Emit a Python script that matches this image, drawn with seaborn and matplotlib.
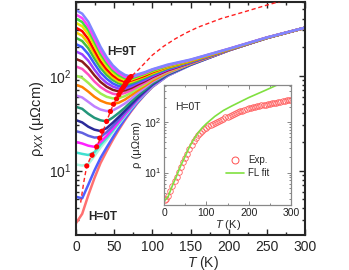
import matplotlib
matplotlib.use('Agg')
import pandas as pd
import matplotlib.pyplot as plt
import seaborn as sns
from matplotlib.ticker import MultipleLocator, LogLocator, NullFormatter
from matplotlib.lines import Line2D

# temperature grid shared by all field curves (K)
T_grid = [0, 8, 16, 24, 32, 40, 48, 56, 64, 72, 80, 90, 100, 120, 150, 200, 250, 300]

# rho_xx (uOhm cm) for each field curve, lowest field (H=0T) first, highest (H=9T) last
rho_c00 = [2.8, 3.5, 5.5, 8.3, 12, 16, 21, 27, 34, 42, 51, 63, 76, 100, 130, 185, 250, 320]
rho_c01 = [5.3, 5.1, 7.1, 10, 13.6, 17.5, 22.3, 28.1, 35, 42.9, 51.8, 63.5, 76.6, 100, 130, 185, 250, 320]
rho_c02 = [11.6, 11.3, 11.7, 14.2, 17.5, 20.9, 25.3, 30.8, 37.3, 44.9, 53.5, 64.9, 77.6, 101, 130, 185, 250, 320]
rho_c03 = [15.5, 15, 14.6, 15.6, 18.8, 22.1, 26.4, 31.8, 38.3, 45.7, 54.3, 65.5, 78, 101, 130, 185, 250, 320]
rho_c04 = [20, 19.3, 18.3, 17.8, 20, 23.2, 27.5, 32.8, 39.2, 46.5, 55, 66.2, 78.7, 101.5, 130.5, 185, 250, 320]
rho_c05 = [26, 25, 23.3, 22.3, 22.5, 25.4, 29.4, 34.6, 40.8, 48, 56.4, 67.3, 79.6, 102, 131, 185, 250, 320]
rho_c06 = [34, 32.2, 29, 27, 26.1, 28, 31.9, 36.8, 42.8, 49.9, 58, 68.7, 81, 103, 131, 186, 250, 320]
rho_c07 = [47, 44.8, 39.7, 36, 33.9, 33, 36.2, 40.6, 46, 53, 61, 71, 83, 104, 132, 186, 250, 320]
rho_c08 = [62, 59, 53, 47.5, 44, 42.4, 43, 46.5, 51, 57, 65, 74.5, 86, 106, 133, 186, 250, 320]
rho_c09 = [80, 76, 68, 60, 54.6, 51.5, 50.1, 52, 56, 62, 69, 78, 88.5, 108, 134, 186, 250, 320]
rho_c10 = [100, 95, 84, 73, 65, 60, 57.7, 58, 61, 66, 73, 81, 92, 110, 135, 187, 250, 320]
rho_c11 = [125, 118, 103, 87, 76, 69, 64.7, 63, 65.8, 70, 76, 84, 94, 112, 136, 187, 250, 320]
rho_c12 = [150, 141, 122, 101, 86, 76.6, 71, 68.4, 70, 74, 80, 87.5, 97, 114, 137, 187, 250, 320]
rho_c13 = [180, 168, 144, 116, 96, 84, 77, 73, 73, 77, 83, 90, 99, 116, 138, 188, 250, 320]
rho_c14 = [215, 200, 169, 134, 108, 93, 83, 77.6, 76.7, 80, 85.5, 93, 102, 118, 139, 188, 251, 320]
rho_c15 = [250, 232, 195, 152, 121, 102, 90, 83, 80, 83.4, 88, 95.5, 104, 120, 141, 189, 251, 320]
rho_c16 = [285, 264, 219, 169, 132, 110, 95.5, 87, 83.4, 86, 91, 98, 106, 122, 142, 189, 251, 320]
rho_c17 = [320, 295, 244, 185, 142, 117, 101, 91, 86.5, 89, 93.5, 100, 109, 124, 143, 190, 252, 320]
rho_c18 = [360, 332, 274, 207, 157, 127, 108, 96, 90, 91, 96, 103, 111, 125, 144, 190, 252, 320]
rho_c19 = [400, 368, 302, 227, 170, 136, 114, 101, 94, 93.5, 98, 105, 113, 127, 146, 191, 252, 321]
rho_c20 = [440, 405, 330, 247, 183, 145, 120, 106, 97.5, 96, 101, 107, 116, 129, 147, 192, 253, 321]
rho_c21 = [490, 451, 370, 274, 202, 157, 129, 112, 102, 98, 103, 109, 117, 131, 148, 192, 253, 321]

curve_colors = ['#ff7070', '#4f5fff', '#a8f5e0', '#40e0d0', '#ff20ff', '#6060e0',
                '#2b2b9a', '#23967a', '#c080ff', '#ff8000', '#a0ee50', '#ff50c0',
                '#8b1a1a', '#9b40ff', '#3d5cff', '#40c040', '#f0d000', '#ff0000',
                '#e8e800', '#40e040', '#ff40ff', '#7f86ff']

# resistivity minima (red dots) and the dashed guide line through them
min_T = [14, 21, 27, 31, 34, 40, 45, 49, 53, 56, 58, 60, 62, 64, 65, 66, 68, 69, 70, 72]
min_rho = [11.2, 14.5, 17.8, 22, 26, 33, 42, 50, 57, 63, 68, 72, 76, 80, 83, 86, 89, 92, 95, 98]
guide_T = [6, 10, 14, 20, 27, 33, 40, 45, 49, 53, 58, 62, 66, 72, 80, 100, 115, 130, 145, 160, 190, 220, 250, 275]
guide_rho = [4.6, 7.5, 11.2, 14.3, 17.8, 23, 33, 42, 50, 57, 68, 76, 86, 98, 112, 165, 205, 245, 285, 325, 400, 470, 555, 630]

# inset: H=0T data and Fermi-liquid fit
exp_T = [2] + list(range(5, 301, 5))
exp_rho = [2.9, 3.0, 3.5, 4.3, 5.4, 6.7, 8.2, 10.2, 12.8, 16, 19.5, 23.5, 28.5, 35, 42,
           49, 55, 61, 66, 71, 76, 81, 86, 91, 96, 101, 106, 111, 116, 122, 127, 132,
           138, 143, 149, 155, 161, 167, 173, 178, 183, 188, 192, 197, 201, 206, 210,
           215, 219, 223, 228, 232, 236, 240, 245, 249, 254, 259, 264, 270, 275]
fl_T = [0, 10, 20, 30, 40, 50, 60, 70, 80, 90, 100, 120, 140, 160, 180, 200, 220, 240, 260, 270]
fl_rho = [2.7, 3.4, 5.6, 8.7, 14, 21, 32, 45, 60, 76, 92, 128, 167, 205, 248, 300, 355, 420, 500, 545]

all_curves = [rho_c00, rho_c01, rho_c02, rho_c03, rho_c04, rho_c05, rho_c06, rho_c07,
              rho_c08, rho_c09, rho_c10, rho_c11, rho_c12, rho_c13, rho_c14, rho_c15,
              rho_c16, rho_c17, rho_c18, rho_c19, rho_c20, rho_c21]

rows = []
for i, rho in enumerate(all_curves):
    for t, r in zip(T_grid, rho):
        rows.append({'T': t, 'rho': r, 'curve': 'c%02d' % i})
df = pd.DataFrame(rows)
palette = {'c%02d' % i: c for i, c in enumerate(curve_colors)}

sns.set_style('ticks')
plt.rcParams['font.family'] = ['Liberation Sans', 'DejaVu Sans']
plt.rcParams['mathtext.fontset'] = 'custom'
plt.rcParams['mathtext.rm'] = 'Liberation Sans'
plt.rcParams['mathtext.it'] = 'Liberation Sans:italic'

fig = plt.figure(figsize=(3.49, 2.70), dpi=100)
ax = fig.add_axes([0.218, 0.130, 0.656, 0.863])

sns.lineplot(data=df, x='T', y='rho', hue='curve', palette=palette, lw=1.8,
             legend=False, ax=ax, sort=False, estimator=None)
ax.plot(guide_T, guide_rho, color='#ff2020', lw=1.0, dashes=(3, 2), zorder=4)
sns.scatterplot(x=min_T, y=min_rho, color='#ff0000', s=14, edgecolor='none', ax=ax, zorder=5)

ax.set_yscale('log')
ax.set_xlim(0, 300)
ax.set_ylim(2.1, 600)
ax.xaxis.set_major_locator(MultipleLocator(50))
ax.xaxis.set_minor_locator(MultipleLocator(25))
ax.yaxis.set_minor_locator(LogLocator(subs=range(2, 10)))
ax.yaxis.set_minor_formatter(NullFormatter())
ax.tick_params(which='both', direction='in', top=True, right=True, width=1.0, labelsize=10)
ax.tick_params(which='major', length=4)
ax.tick_params(which='minor', length=2)
for s in ax.spines.values():
    s.set_linewidth(1.5)
ax.set_xlabel(r'$T$ (K)', fontsize=10)
ax.xaxis.set_label_coords(0.555, -0.08)
ax.set_ylabel(r'ρ$_{XX}$ (μΩcm)', fontsize=10.5, labelpad=2)
ax.text(0.135, 0.785, 'H=9T', transform=ax.transAxes, fontsize=8.5, fontweight='bold', va='center')
ax.text(0.052, 0.077, 'H=0T', transform=ax.transAxes, fontsize=8.5, fontweight='bold', va='center')

# inset
axi = fig.add_axes([0.470, 0.241, 0.364, 0.444])
axi.set_facecolor('white')
axi.plot(exp_T, exp_rho, 'o', ms=4, mfc='none', mec='#ff6060', mew=0.6)
sns.lineplot(x=fl_T, y=fl_rho, color='#80e040', lw=1.2, ax=axi)
axi.set_yscale('log')
axi.set_xlim(0, 300)
axi.set_ylim(2.3, 530)
axi.xaxis.set_major_locator(MultipleLocator(100))
axi.xaxis.set_minor_locator(MultipleLocator(50))
axi.yaxis.set_minor_locator(LogLocator(subs=range(2, 10)))
axi.yaxis.set_minor_formatter(NullFormatter())
axi.tick_params(which='both', direction='in', top=True, right=True, colors='#888888',
                labelcolor='#222222', labelsize=7.5, width=0.7, pad=2)
axi.tick_params(which='major', length=3)
axi.tick_params(which='minor', length=1.5)
for s in axi.spines.values():
    s.set_color('#888888')
    s.set_linewidth(0.9)
axi.set_xlabel(r'$T$ (K)', fontsize=8, labelpad=0)
axi.set_ylabel('ρ (μΩcm)', fontsize=8, labelpad=1)
axi.text(0.087, 0.817, 'H=0T', transform=axi.transAxes, fontsize=7.5, va='center')
handles = [Line2D([], [], ls='none', marker='o', ms=5, mfc='none', mec='#ff5050', mew=0.7),
           Line2D([], [], color='#80e040', lw=1.2)]
axi.legend(handles, ['Exp.', 'FL fit'], loc='lower left', bbox_to_anchor=(0.42, 0.15),
           frameon=False, fontsize=7, handlelength=1.8, labelspacing=0.3, handletextpad=0.5)

fig.savefig('out.png', dpi=100)
